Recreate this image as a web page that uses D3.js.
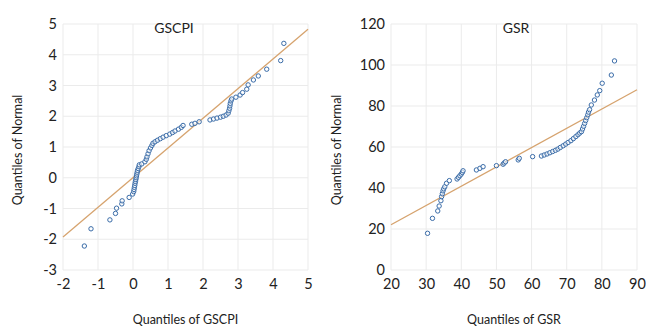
<!DOCTYPE html>
<html>
<head>
<meta charset="utf-8">
<script src="https://cdn.jsdelivr.net/npm/d3@7"></script>
<style>
  body { margin: 0; background: #fff; }
  svg text { font-family: Lato, "Open Sans", sans-serif; fill: #222; }
</style>
</head>
<body>
<svg id="graph" width="646" height="326"></svg>
<script>
// GSCPI: [quantile of GSCPI, quantile of normal]
var gscpiPuntos = [
  [-1.39, -2.22], [-1.2, -1.66], [-0.66, -1.37], [-0.5, -1.16], [-0.47, -0.99],
  [-0.32, -0.85], [-0.31, -0.75], [-0.11, -0.64], [-0.01, -0.53],
  [0.02, -0.45], [0.03, -0.38], [0.04, -0.31], [0.05, -0.25], [0.06, -0.18],
  [0.07, -0.12], [0.08, -0.06], [0.09, 0.0], [0.1, 0.06], [0.11, 0.12],
  [0.12, 0.18], [0.13, 0.24], [0.15, 0.3], [0.17, 0.36], [0.18, 0.42],
  [0.25, 0.45], [0.34, 0.52], [0.38, 0.6], [0.4, 0.68], [0.43, 0.78],
  [0.46, 0.88], [0.5, 0.97], [0.54, 1.05], [0.57, 1.12], [0.63, 1.17],
  [0.7, 1.22], [0.78, 1.27], [0.86, 1.32], [0.95, 1.37], [1.05, 1.42],
  [1.13, 1.47], [1.2, 1.52], [1.3, 1.58], [1.38, 1.64], [1.43, 1.7],
  [1.68, 1.74], [1.77, 1.77], [1.89, 1.82],
  [2.2, 1.88], [2.3, 1.91], [2.4, 1.94], [2.5, 1.97], [2.58, 2.0],
  [2.66, 2.04], [2.72, 2.1], [2.74, 2.18], [2.76, 2.26], [2.77, 2.34],
  [2.78, 2.42], [2.8, 2.5], [2.82, 2.56],
  [2.94, 2.62], [3.06, 2.69], [3.13, 2.77], [3.25, 2.88], [3.29, 3.02],
  [3.44, 3.18], [3.58, 3.31], [3.82, 3.53], [4.22, 3.81], [4.31, 4.37]
];
var gscpiLinea = [[-2, -1.93], [5, 4.83]];
var gscpiTicksX = [-2, -1, 0, 1, 2, 3, 4, 5];
var gscpiTicksY = [-3, -2, -1, 0, 1, 2, 3, 4, 5];

// GSR: [quantile of GSR, quantile of normal]
var gsrPuntos = [
  [30.4, 17.9], [31.8, 25.2], [33.3, 28.8], [33.7, 31.2], [34.2, 33.8],
  [34.4, 35.8], [34.6, 37.2], [34.8, 38.6], [35.0, 39.6], [35.3, 40.6],
  [35.8, 42.3], [36.6, 43.6], [38.8, 44.4], [39.2, 45.2], [39.6, 46.0],
  [40.0, 46.8], [40.3, 47.6], [40.5, 48.4], [44.3, 48.8], [45.3, 49.6],
  [46.2, 50.4], [50.0, 50.9], [51.9, 51.6], [52.2, 52.2], [52.6, 52.8],
  [56.2, 53.7], [56.5, 54.5], [60.3, 55.3],
  [62.8, 55.6], [63.6, 56.1], [64.4, 56.6], [65.2, 57.2], [66.0, 57.8],
  [66.8, 58.4], [67.5, 59.0], [68.2, 59.8], [69.0, 60.6], [69.7, 61.4],
  [70.4, 62.2], [71.2, 63.1], [71.9, 64.1], [72.6, 65.1], [73.2, 66.0],
  [73.7, 66.8], [74.2, 67.5], [74.5, 68.8], [74.8, 70.1], [75.1, 71.5],
  [75.4, 72.9], [75.7, 74.3], [76.0, 75.7], [76.2, 77.0], [76.5, 78.2],
  [77.0, 80.5], [77.9, 82.9], [78.7, 85.4], [79.4, 87.5], [80.1, 91.1],
  [82.7, 95.1], [83.6, 102.0]
];
var gsrLinea = [[20, 22.1], [90, 87.9]];
var gsrTicksX = [20, 30, 40, 50, 60, 70, 80, 90];
var gsrTicksY = [0, 20, 40, 60, 80, 100, 120];

var svg = d3.select("#graph");

function creaGrafica(cfg) {
  var x = d3.scaleLinear().domain(cfg.dx).range([cfg.left, cfg.right]);
  var y = d3.scaleLinear().domain(cfg.dy).range([cfg.bottom, cfg.top]);
  var g = svg.append("g");

  // rejilla
  g.append("g")
    .selectAll("line.v").data(cfg.ticksX).enter().append("line")
    .attr("x1", d => x(d)).attr("x2", d => x(d))
    .attr("y1", cfg.top).attr("y2", cfg.bottom)
    .attr("stroke", "#ebebeb").attr("stroke-width", 1);
  g.append("g")
    .selectAll("line.h").data(cfg.ticksY).enter().append("line")
    .attr("y1", d => y(d)).attr("y2", d => y(d))
    .attr("x1", cfg.left).attr("x2", cfg.right)
    .attr("stroke", "#ebebeb").attr("stroke-width", 1);

  // ejes (etiquetas con guion normal, sin decimales)
  var fmt = d => String(d);
  var ax = g.append("g")
    .attr("transform", "translate(0," + cfg.bottom + ")")
    .call(d3.axisBottom(x).tickValues(cfg.ticksX).tickFormat(fmt).tickSize(0).tickPadding(9));
  var ay = g.append("g")
    .attr("transform", "translate(" + cfg.left + ",0)")
    .call(d3.axisLeft(y).tickValues(cfg.ticksY).tickFormat(fmt).tickSize(0).tickPadding(6));
  [ax, ay].forEach(a => {
    a.select(".domain").remove();
    a.selectAll("text").attr("font-size", 14.5).style("font-family", "Lato, sans-serif").attr("fill", "#222");
  });

  // linea de referencia
  g.append("line")
    .attr("x1", x(cfg.linea[0][0])).attr("y1", y(cfg.linea[0][1]))
    .attr("x2", x(cfg.linea[1][0])).attr("y2", y(cfg.linea[1][1]))
    .attr("stroke", "#D6A36E").attr("stroke-width", 1.3);

  // puntos
  g.append("g").selectAll("circle").data(cfg.puntos).enter().append("circle")
    .attr("cx", d => x(d[0])).attr("cy", d => y(d[1]))
    .attr("r", 2.2)
    .attr("fill", "#fff").attr("fill-opacity", 0.6)
    .attr("stroke", "#3A6CA8").attr("stroke-width", 1);

  // textos
  g.append("text").attr("x", cfg.tituloX).attr("y", 33)
    .attr("text-anchor", "middle").attr("font-size", 14).text(cfg.titulo);
  g.append("text").attr("x", (cfg.left + cfg.right) / 2).attr("y", 324)
    .attr("text-anchor", "middle").attr("font-size", 12.5).text(cfg.tituloX2);
  g.append("text")
    .attr("transform", "translate(" + cfg.yTitX + ",150) rotate(-90)")
    .attr("text-anchor", "middle").attr("font-size", 12.5).text("Quantiles of Normal");
}

creaGrafica({
  puntos: gscpiPuntos, linea: gscpiLinea, ticksX: gscpiTicksX, ticksY: gscpiTicksY,
  dx: [-2, 5], dy: [-3, 5], left: 63, right: 308, top: 24, bottom: 270,
  titulo: "GSCPI", tituloX: 174, tituloX2: "Quantiles of GSCPI", yTitX: 22
});
creaGrafica({
  puntos: gsrPuntos, linea: gsrLinea, ticksX: gsrTicksX, ticksY: gsrTicksY,
  dx: [20, 90], dy: [0, 120], left: 391, right: 637, top: 24, bottom: 270,
  titulo: "GSR", tituloX: 516, tituloX2: "Quantiles of GSR", yTitX: 341
});
</script>
</body>
</html>
